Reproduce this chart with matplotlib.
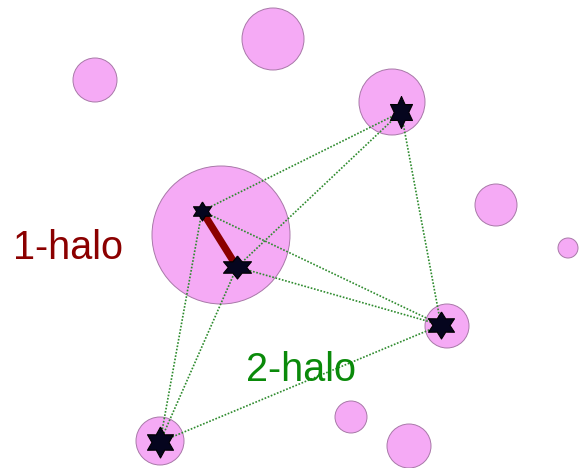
import numpy as np
import matplotlib
matplotlib.use("Agg")
import matplotlib.pyplot as plt
from matplotlib.patches import Circle

# halo circles (pixel-space data): x, y, radius
halo_x = [273, 95, 221, 392, 496, 568, 447, 351, 409, 160]
halo_y = [39, 80, 235, 102, 205, 248, 326, 417, 446, 441]
halo_r = [31, 22, 69, 33, 21, 10, 22, 16, 22, 24]

# galaxies (stars)
gal_x = [202, 237, 401, 441, 160]
gal_y = [211, 267, 112, 325, 442]
gal_w = [18, 28, 22, 26, 26]   # glyph width, px
gal_h = [19, 23, 32, 27, 31]   # glyph height, px

# pairs
one_halo_pairs = [(0, 1)]
two_halo_pairs = [(0, 2), (0, 3), (1, 2), (1, 3), (1, 4), (0, 4), (2, 3), (4, 3)]

labels = ["1-halo", "2-halo"]
label_x = [68, 301]
label_y = [248, 370]
label_colors = ["#8b0000", "#0a8a0a"]

W, H, DPI = 580, 468, 100
fig = plt.figure(figsize=(W / DPI, H / DPI), dpi=DPI)
ax = fig.add_axes([0, 0, 1, 1])
ax.set_xlim(0, W)
ax.set_ylim(H, 0)
ax.set_aspect("equal")
ax.axis("off")

for x, y, r in zip(halo_x, halo_y, halo_r):
    ax.add_patch(Circle((x, y), r, facecolor="#f5aaf5", edgecolor="#a878a8",
                        lw=0.7, zorder=1))

for i, j in two_halo_pairs:
    ax.plot([gal_x[i], gal_x[j]], [gal_y[i], gal_y[j]], ls=(0, (1, 1)),
            color="#2e8b2e", lw=1.2, zorder=2)

for i, j in one_halo_pairs:
    ax.plot([gal_x[i], gal_x[j]], [gal_y[i], gal_y[j]], color="#8b0000",
            lw=5.2, solid_capstyle="butt", zorder=3)

# six-pointed star outline
ang = np.pi / 2 + np.arange(12) * np.pi / 6
rad = np.where(np.arange(12) % 2 == 0, 1.0, 0.57)
base = np.column_stack([rad * np.cos(ang), rad * np.sin(ang)])
for x, y, w, h in zip(gal_x, gal_y, gal_w, gal_h):
    verts = base * np.array([w / 2.0, h / 2.0]) / np.array([np.cos(np.pi / 6), 1.0])
    verts = np.vstack([verts, verts[:1]])
    ax.plot([x], [y], marker=verts, markersize=max(w, h) * 0.72,
            markerfacecolor="#05051e", markeredgecolor="black",
            markeredgewidth=0.8, ls="none", zorder=4)

for t, x, y, c in zip(labels, label_x, label_y, label_colors):
    ax.text(x, y, t, color=c, fontsize=28.5, family="Liberation Sans",
            ha="center", va="center", zorder=5)

fig.savefig("out.png", dpi=DPI)
